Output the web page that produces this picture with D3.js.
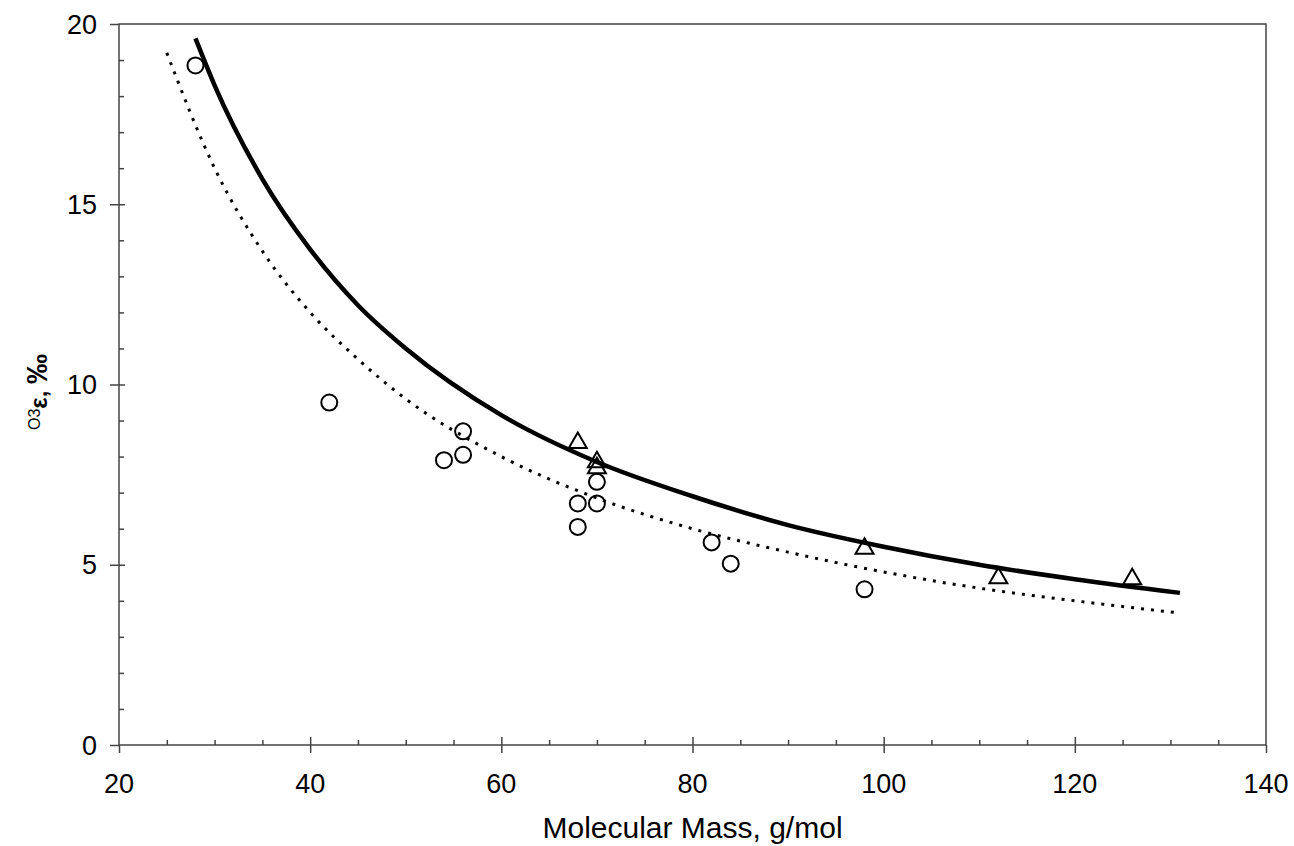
<!DOCTYPE html>
<html>
<head>
<meta charset="utf-8">
<script src="https://cdn.jsdelivr.net/npm/d3@7"></script>
<style>
    body { margin: 0; background: #fff; }
    svg { display: block; }
</style>
</head>
<body>
<div id="vizChart"></div>
<script>

// circles (open) and triangles
const circleMass = [28, 42, 54, 56, 56, 68, 68, 70, 70, 82, 84, 98];
const circleEps = [18.85, 9.5, 7.9, 8.7, 8.05, 6.7, 6.05, 7.3, 6.7, 5.62, 5.03, 4.32];

const triMass = [68, 70, 70, 98, 112, 126];
const triEps = [8.38, 7.85, 7.68, 5.45, 4.63, 4.6];

// solid curve
const solidMass = [28, 30, 35, 40, 45, 50, 60, 70, 80, 90, 100, 110, 120, 131];
const solidEps = [19.6, 18.3, 15.7, 13.75, 12.2, 11.0, 9.15, 7.85, 6.9, 6.1, 5.5, 5.0, 4.6, 4.22];

// dotted curve
const dotMass = [25, 30, 35, 40, 45, 50, 60, 70, 80, 90, 100, 110, 120, 131];
const dotEps = [19.2, 16.0, 13.7, 12.0, 10.7, 9.6, 8.0, 6.85, 6.0, 5.35, 4.8, 4.35, 4.0, 3.66];

const xTicks = [20, 40, 60, 80, 100, 120, 140];
const yTicks = [0, 5, 10, 15, 20];

function drawChart(id) {

    const fullWidth = 1294,
        fullHeight = 846;

    const margin = {top: 24, right: 28, bottom: 101, left: 119};
    const width = fullWidth - margin.left - margin.right,
        height = fullHeight - margin.top - margin.bottom;

    const axisColor = "#444";
    const font = "'Liberation Sans', Arial, sans-serif";

    let svg = d3.select("#" + id)
        .append("svg")
        .attr("width", fullWidth)
        .attr("height", fullHeight),
        g = svg.append("g").attr("transform", "translate(" + margin.left + "," + margin.top + ")");

    let x = d3.scaleLinear()
        .domain([20, 140])
        .range([0, width]);
    let y = d3.scaleLinear()
        .domain([0, 20])
        .range([height, 0]);

    // frame
    g.append("rect")
        .attr("x", 0)
        .attr("y", 0)
        .attr("width", width)
        .attr("height", height)
        .attr("fill", "none")
        .attr("stroke", axisColor)
        .attr("stroke-width", 1.5);

    // x axis: major ticks cross the axis, minor ticks inside
    let xAxis = g.append("g")
        .attr("transform", "translate(0," + height + ")");
    xAxis.call(d3.axisBottom(x).tickValues(d3.range(20, 141, 5)).tickSize(0).tickFormat(""));
    xAxis.selectAll(".tick line")
        .attr("y1", 0)
        .attr("y2", -5);
    xAxis.selectAll(".tick").filter(function(d) { return xTicks.indexOf(d) >= 0; })
        .select("line")
        .attr("y1", function(d) { return (d == 20 || d == 140) ? 0 : -8; })
        .attr("y2", 8);
    xAxis.select(".domain").remove();
    xAxis.selectAll(".tick line").attr("stroke", axisColor).attr("stroke-width", 1.5);

    g.append("g")
        .selectAll("text")
        .data(xTicks)
        .enter().append("text")
        .attr("x", function(d) { return x(d); })
        .attr("y", height + 48)
        .attr("text-anchor", "middle")
        .style("font-family", font)
        .style("font-size", "27px")
        .attr("fill", "#000")
        .text(function(d) { return d; });

    // y axis: minor ticks every unit
    let yAxis = g.append("g");
    yAxis.call(d3.axisLeft(y).tickValues(d3.range(0, 21, 1)).tickSize(0).tickFormat(""));
    yAxis.select(".domain").remove();
    yAxis.selectAll(".tick line")
        .attr("x1", 0)
        .attr("x2", 5)
        .attr("stroke", axisColor)
        .attr("stroke-width", 1.5);
    yAxis.selectAll(".tick").filter(function(d) { return yTicks.indexOf(d) >= 0; })
        .select("line")
        .attr("x1", -9)
        .attr("x2", function(d) { return (d == 0 || d == 20) ? 0 : 6; });

    g.append("g")
        .selectAll("text")
        .data(yTicks)
        .enter().append("text")
        .attr("x", -22)
        .attr("y", function(d) { return y(d); })
        .attr("dy", "0.36em")
        .attr("text-anchor", "end")
        .style("font-family", font)
        .style("font-size", "27px")
        .attr("fill", "#000")
        .text(function(d) { return d; });

    // curves
    let line = d3.line()
        .x(function(d) { return x(d[0]); })
        .y(function(d) { return y(d[1]); })
        .curve(d3.curveMonotoneX);

    g.append("path")
        .datum(d3.zip(dotMass, dotEps))
        .attr("d", line)
        .attr("fill", "none")
        .attr("stroke", "#000")
        .attr("stroke-width", 3)
        .attr("stroke-dasharray", "3,7");

    g.append("path")
        .datum(d3.zip(solidMass, solidEps))
        .attr("d", line)
        .attr("fill", "none")
        .attr("stroke", "#000")
        .attr("stroke-width", 4.5);

    // markers
    g.append("g")
        .selectAll("circle")
        .data(d3.zip(circleMass, circleEps))
        .enter().append("circle")
        .attr("cx", function(d) { return x(d[0]); })
        .attr("cy", function(d) { return y(d[1]); })
        .attr("r", 8)
        .attr("fill", "none")
        .attr("stroke", "#000")
        .attr("stroke-width", 2);

    const tri = d3.symbol().type(d3.symbolTriangle).size(140);
    g.append("g")
        .selectAll("path")
        .data(d3.zip(triMass, triEps))
        .enter().append("path")
        .attr("d", tri)
        .attr("transform", function(d) { return "translate(" + x(d[0]) + "," + y(d[1]) + ")"; })
        .attr("fill", "none")
        .attr("stroke", "#000")
        .attr("stroke-width", 2);

    // axis titles
    svg.append("text")
        .attr("x", margin.left + width / 2)
        .attr("y", 838)
        .attr("text-anchor", "middle")
        .style("font-family", font)
        .style("font-size", "30px")
        .attr("fill", "#000")
        .text("Molecular Mass, g/mol");

    let yTitle = svg.append("text")
        .attr("transform", "translate(47,430) rotate(-90)")
        .attr("text-anchor", "start")
        .style("font-family", font)
        .attr("fill", "#000");
    yTitle.append("tspan")
        .attr("dy", -7)
        .style("font-size", "16px")
        .text("O3");
    yTitle.append("tspan")
        .attr("dy", 7)
        .style("font-size", "24px")
        .style("font-weight", "bold")
        .text("ε, ");
    yTitle.append("tspan")
        .style("font-size", "30px")
        .style("font-weight", "bold")
        .text("‰");
}

drawChart("vizChart");

</script>
</body>
</html>
